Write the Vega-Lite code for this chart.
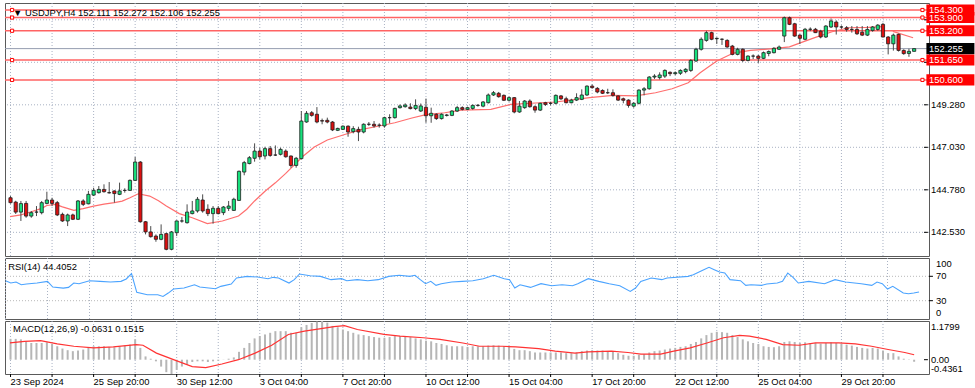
{
"$schema":"https://vega.github.io/schema/vega-lite/v6.json",
"background":"white",
"padding":{"left":2,"top":2,"right":0,"bottom":0},
"spacing":0,
"config":{"view":{"stroke":"#5a5a5a","strokeWidth":1},"axis":{"disable":true},"text":{"font":"Liberation Sans","fontSize":9.4,"color":"#000"}},
"datasets":{
"bars":[
{"i":0,"o":144.36,"h":144.45,"l":144.05,"c":144.10,"m":0.635},
{"i":1,"o":144.13,"h":144.20,"l":143.50,"c":143.60,"m":0.635},
{"i":2,"o":143.60,"h":144.19,"l":143.13,"c":144.05,"m":0.62},
{"i":3,"o":144.06,"h":144.19,"l":143.30,"c":143.39,"m":0.56},
{"i":4,"o":143.39,"h":143.66,"l":143.30,"c":143.57,"m":0.51},
{"i":5,"o":143.60,"h":143.92,"l":143.39,"c":143.60,"m":0.51},
{"i":6,"o":143.57,"h":144.19,"l":143.48,"c":144.10,"m":0.51},
{"i":7,"o":144.06,"h":144.68,"l":144.01,"c":144.24,"m":0.53},
{"i":8,"o":144.24,"h":144.36,"l":143.92,"c":144.06,"m":0.48},
{"i":9,"o":144.10,"h":144.19,"l":143.39,"c":143.45,"m":0.41},
{"i":10,"o":143.48,"h":143.57,"l":143.08,"c":143.13,"m":0.34},
{"i":11,"o":143.13,"h":143.52,"l":142.86,"c":143.45,"m":0.29},
{"i":12,"o":143.45,"h":143.52,"l":143.18,"c":143.22,"m":0.26},
{"i":13,"o":143.22,"h":144.24,"l":143.18,"c":144.19,"m":0.28},
{"i":14,"o":144.19,"h":144.28,"l":143.92,"c":144.01,"m":0.31},
{"i":15,"o":144.04,"h":144.72,"l":144.01,"c":144.54,"m":0.36},
{"i":16,"o":144.50,"h":144.89,"l":144.45,"c":144.75,"m":0.41},
{"i":17,"o":144.63,"h":144.98,"l":144.58,"c":144.80,"m":0.41},
{"i":18,"o":144.80,"h":145.07,"l":144.63,"c":144.68,"m":0.41},
{"i":19,"o":144.63,"h":145.19,"l":144.58,"c":144.62,"m":0.39},
{"i":20,"o":144.72,"h":144.75,"l":144.10,"c":144.58,"m":0.38},
{"i":21,"o":144.54,"h":145.16,"l":144.50,"c":144.72,"m":0.41},
{"i":22,"o":144.75,"h":144.86,"l":144.63,"c":144.75,"m":0.43},
{"i":23,"o":144.75,"h":145.33,"l":144.72,"c":145.28,"m":0.46},
{"i":24,"o":145.28,"h":146.52,"l":145.25,"c":146.25,"m":0.62},
{"i":25,"o":146.25,"h":146.30,"l":143.04,"c":143.09,"m":0.36},
{"i":26,"o":143.09,"h":143.13,"l":142.42,"c":142.55,"m":0.10},
{"i":27,"o":142.55,"h":142.86,"l":142.25,"c":142.30,"m":0.03},
{"i":28,"o":142.33,"h":142.42,"l":142.03,"c":142.16,"m":-0.05},
{"i":29,"o":142.16,"h":142.95,"l":142.11,"c":142.42,"m":-0.21},
{"i":30,"o":142.46,"h":142.51,"l":141.58,"c":141.63,"m":-0.38},
{"i":31,"o":141.63,"h":142.60,"l":141.58,"c":142.55,"m":-0.436},
{"i":32,"o":142.51,"h":143.16,"l":142.33,"c":143.13,"m":-0.31},
{"i":33,"o":143.13,"h":143.34,"l":143.04,"c":143.13,"m":-0.21},
{"i":34,"o":143.04,"h":144.01,"l":142.99,"c":143.60,"m":-0.15},
{"i":35,"o":143.52,"h":144.19,"l":143.48,"c":143.66,"m":-0.07},
{"i":36,"o":143.66,"h":144.40,"l":143.57,"c":144.28,"m":-0.05},
{"i":37,"o":144.24,"h":144.54,"l":143.57,"c":143.66,"m":-0.05},
{"i":38,"o":143.75,"h":144.01,"l":143.39,"c":143.52,"m":-0.07},
{"i":39,"o":143.52,"h":143.92,"l":142.99,"c":143.80,"m":-0.05},
{"i":40,"o":143.80,"h":143.92,"l":143.48,"c":143.52,"m":-0.03},
{"i":41,"o":143.57,"h":143.92,"l":143.44,"c":143.87,"m":0.005},
{"i":42,"o":143.80,"h":144.19,"l":143.66,"c":143.92,"m":0.03},
{"i":43,"o":143.69,"h":144.36,"l":143.66,"c":144.28,"m":0.07},
{"i":44,"o":144.22,"h":145.80,"l":144.19,"c":145.76,"m":0.24},
{"i":45,"o":145.72,"h":146.31,"l":145.55,"c":146.22,"m":0.36},
{"i":46,"o":146.17,"h":146.57,"l":146.13,"c":146.48,"m":0.51},
{"i":47,"o":146.45,"h":147.24,"l":146.27,"c":146.83,"m":0.65},
{"i":48,"o":146.83,"h":147.01,"l":146.39,"c":146.53,"m":0.72},
{"i":49,"o":146.57,"h":147.06,"l":146.39,"c":146.96,"m":0.77},
{"i":50,"o":146.96,"h":147.10,"l":146.53,"c":146.60,"m":0.82},
{"i":51,"o":146.62,"h":147.13,"l":146.57,"c":146.62,"m":0.87},
{"i":52,"o":146.66,"h":147.01,"l":146.60,"c":146.92,"m":0.87},
{"i":53,"o":146.83,"h":146.92,"l":146.48,"c":146.53,"m":0.87},
{"i":54,"o":146.57,"h":146.60,"l":145.95,"c":146.07,"m":0.82},
{"i":55,"o":146.07,"h":146.52,"l":145.95,"c":146.45,"m":0.82},
{"i":56,"o":146.43,"h":148.95,"l":146.40,"c":148.42,"m":0.99},
{"i":57,"o":148.37,"h":148.95,"l":148.33,"c":148.83,"m":1.06},
{"i":58,"o":148.86,"h":148.95,"l":148.65,"c":148.72,"m":1.12},
{"i":59,"o":148.78,"h":149.16,"l":148.30,"c":148.37,"m":1.16},
{"i":60,"o":148.44,"h":148.55,"l":148.25,"c":148.42,"m":1.18},
{"i":61,"o":148.46,"h":148.60,"l":148.30,"c":148.37,"m":1.13},
{"i":62,"o":148.37,"h":148.42,"l":147.89,"c":147.95,"m":1.03},
{"i":63,"o":147.93,"h":148.07,"l":147.89,"c":148.03,"m":0.99},
{"i":64,"o":147.98,"h":148.19,"l":147.95,"c":148.15,"m":0.92},
{"i":65,"o":148.15,"h":148.19,"l":147.59,"c":147.84,"m":0.87},
{"i":66,"o":147.86,"h":148.15,"l":147.77,"c":148.02,"m":0.82},
{"i":67,"o":147.98,"h":148.12,"l":147.36,"c":147.84,"m":0.77},
{"i":68,"o":147.84,"h":148.30,"l":147.77,"c":148.25,"m":0.75},
{"i":69,"o":148.25,"h":148.37,"l":148.16,"c":148.25,"m":0.72},
{"i":70,"o":148.25,"h":148.42,"l":148.07,"c":148.16,"m":0.69},
{"i":71,"o":148.20,"h":148.30,"l":148.07,"c":148.20,"m":0.67},
{"i":72,"o":148.16,"h":148.65,"l":148.07,"c":148.60,"m":0.67},
{"i":73,"o":148.60,"h":148.78,"l":148.30,"c":148.60,"m":0.69},
{"i":74,"o":148.60,"h":149.13,"l":148.55,"c":149.09,"m":0.72},
{"i":75,"o":149.13,"h":149.30,"l":149.08,"c":149.22,"m":0.72},
{"i":76,"o":149.18,"h":149.36,"l":149.13,"c":149.27,"m":0.72},
{"i":77,"o":149.16,"h":149.36,"l":149.04,"c":149.08,"m":0.69},
{"i":78,"o":149.08,"h":149.57,"l":149.00,"c":149.25,"m":0.65},
{"i":79,"o":148.95,"h":149.35,"l":148.90,"c":149.22,"m":0.62},
{"i":80,"o":149.15,"h":149.61,"l":148.33,"c":148.70,"m":0.58},
{"i":81,"o":148.70,"h":149.13,"l":148.33,"c":148.83,"m":0.56},
{"i":82,"o":148.78,"h":148.83,"l":148.48,"c":148.55,"m":0.51},
{"i":83,"o":148.55,"h":148.83,"l":148.50,"c":148.78,"m":0.48},
{"i":84,"o":148.72,"h":148.80,"l":148.66,"c":148.74,"m":0.44},
{"i":85,"o":148.72,"h":149.00,"l":148.68,"c":148.95,"m":0.41},
{"i":86,"o":148.95,"h":149.22,"l":148.90,"c":149.13,"m":0.41},
{"i":87,"o":149.13,"h":149.20,"l":148.98,"c":149.04,"m":0.41},
{"i":88,"o":149.04,"h":149.18,"l":149.00,"c":149.13,"m":0.39},
{"i":89,"o":149.09,"h":149.30,"l":149.02,"c":149.25,"m":0.41},
{"i":90,"o":149.25,"h":149.32,"l":149.18,"c":149.25,"m":0.41},
{"i":91,"o":149.21,"h":149.48,"l":149.15,"c":149.43,"m":0.41},
{"i":92,"o":149.39,"h":149.88,"l":149.35,"c":149.80,"m":0.43},
{"i":93,"o":149.80,"h":150.01,"l":149.75,"c":149.92,"m":0.44},
{"i":94,"o":149.89,"h":149.96,"l":149.66,"c":149.71,"m":0.43},
{"i":95,"o":149.78,"h":149.83,"l":149.48,"c":149.52,"m":0.41},
{"i":96,"o":149.52,"h":149.72,"l":149.45,"c":149.66,"m":0.39},
{"i":97,"o":149.66,"h":149.69,"l":148.83,"c":148.90,"m":0.33},
{"i":98,"o":148.90,"h":149.48,"l":148.86,"c":149.21,"m":0.29},
{"i":99,"o":149.13,"h":149.53,"l":149.07,"c":149.48,"m":0.29},
{"i":100,"o":149.48,"h":149.57,"l":149.13,"c":149.18,"m":0.26},
{"i":101,"o":149.18,"h":149.25,"l":148.86,"c":149.00,"m":0.22},
{"i":102,"o":149.00,"h":149.39,"l":148.95,"c":149.36,"m":0.22},
{"i":103,"o":149.39,"h":149.44,"l":149.22,"c":149.30,"m":0.22},
{"i":104,"o":149.36,"h":149.44,"l":149.25,"c":149.36,"m":0.22},
{"i":105,"o":149.36,"h":149.83,"l":149.30,"c":149.78,"m":0.22},
{"i":106,"o":149.75,"h":149.80,"l":149.53,"c":149.60,"m":0.22},
{"i":107,"o":149.60,"h":149.71,"l":149.36,"c":149.39,"m":0.20},
{"i":108,"o":149.39,"h":149.60,"l":149.36,"c":149.53,"m":0.20},
{"i":109,"o":149.53,"h":149.89,"l":149.48,"c":149.66,"m":0.22},
{"i":110,"o":149.57,"h":150.10,"l":149.53,"c":149.80,"m":0.26},
{"i":111,"o":149.80,"h":150.31,"l":149.75,"c":150.27,"m":0.28},
{"i":112,"o":150.27,"h":150.36,"l":150.13,"c":150.19,"m":0.29},
{"i":113,"o":150.15,"h":150.22,"l":149.89,"c":149.96,"m":0.28},
{"i":114,"o":150.04,"h":150.10,"l":149.85,"c":149.89,"m":0.28},
{"i":115,"o":149.92,"h":150.13,"l":149.85,"c":149.92,"m":0.26},
{"i":116,"o":149.92,"h":150.10,"l":149.71,"c":149.78,"m":0.26},
{"i":117,"o":149.75,"h":149.78,"l":149.48,"c":149.53,"m":0.20},
{"i":118,"o":149.60,"h":149.66,"l":149.36,"c":149.52,"m":0.15},
{"i":119,"o":149.53,"h":149.57,"l":149.13,"c":149.25,"m":0.12},
{"i":120,"o":149.21,"h":149.42,"l":149.13,"c":149.36,"m":0.12},
{"i":121,"o":149.36,"h":150.10,"l":149.30,"c":150.06,"m":0.15},
{"i":122,"o":150.06,"h":150.22,"l":149.78,"c":150.13,"m":0.17},
{"i":123,"o":150.13,"h":150.80,"l":150.08,"c":150.75,"m":0.22},
{"i":124,"o":150.75,"h":150.90,"l":150.65,"c":150.80,"m":0.26},
{"i":125,"o":150.72,"h":151.00,"l":150.62,"c":150.86,"m":0.28},
{"i":126,"o":150.80,"h":151.16,"l":150.70,"c":151.10,"m":0.31},
{"i":127,"o":151.00,"h":151.05,"l":150.80,"c":150.93,"m":0.34},
{"i":128,"o":150.93,"h":151.05,"l":150.85,"c":150.98,"m":0.36},
{"i":129,"o":150.95,"h":151.16,"l":150.86,"c":151.10,"m":0.39},
{"i":130,"o":151.04,"h":151.22,"l":150.95,"c":151.16,"m":0.41},
{"i":131,"o":151.10,"h":151.70,"l":151.02,"c":151.63,"m":0.48},
{"i":132,"o":151.60,"h":152.30,"l":151.55,"c":152.22,"m":0.54},
{"i":133,"o":152.22,"h":152.85,"l":152.15,"c":152.75,"m":0.65},
{"i":134,"o":152.69,"h":153.20,"l":152.62,"c":153.10,"m":0.75},
{"i":135,"o":153.10,"h":153.15,"l":152.70,"c":152.75,"m":0.82},
{"i":136,"o":152.78,"h":152.85,"l":152.50,"c":152.80,"m":0.85},
{"i":137,"o":152.75,"h":152.80,"l":152.45,"c":152.75,"m":0.84},
{"i":138,"o":152.69,"h":152.75,"l":152.30,"c":152.34,"m":0.82},
{"i":139,"o":152.39,"h":152.45,"l":151.90,"c":151.95,"m":0.75},
{"i":140,"o":151.95,"h":152.30,"l":151.90,"c":152.22,"m":0.69},
{"i":141,"o":152.22,"h":152.27,"l":151.55,"c":151.63,"m":0.62},
{"i":142,"o":151.63,"h":151.90,"l":151.58,"c":151.86,"m":0.56},
{"i":143,"o":151.86,"h":151.95,"l":151.70,"c":151.86,"m":0.51},
{"i":144,"o":151.86,"h":151.92,"l":151.50,"c":151.74,"m":0.48},
{"i":145,"o":151.74,"h":152.10,"l":151.70,"c":152.04,"m":0.41},
{"i":146,"o":152.00,"h":152.16,"l":151.85,"c":152.10,"m":0.39},
{"i":147,"o":152.04,"h":152.33,"l":152.00,"c":152.27,"m":0.38},
{"i":148,"o":152.22,"h":152.42,"l":152.18,"c":152.34,"m":0.41},
{"i":149,"o":152.92,"h":153.95,"l":152.60,"c":153.89,"m":0.54},
{"i":150,"o":153.89,"h":153.95,"l":153.50,"c":153.54,"m":0.56},
{"i":151,"o":153.57,"h":153.62,"l":152.88,"c":152.92,"m":0.54},
{"i":152,"o":152.97,"h":153.02,"l":152.50,"c":152.80,"m":0.51},
{"i":153,"o":152.75,"h":153.35,"l":152.70,"c":153.28,"m":0.53},
{"i":154,"o":153.28,"h":153.38,"l":153.18,"c":153.28,"m":0.51},
{"i":155,"o":153.28,"h":153.35,"l":153.08,"c":153.10,"m":0.51},
{"i":156,"o":153.18,"h":153.25,"l":152.80,"c":152.87,"m":0.49},
{"i":157,"o":152.87,"h":153.50,"l":152.82,"c":153.45,"m":0.51},
{"i":158,"o":153.40,"h":153.85,"l":153.35,"c":153.72,"m":0.53},
{"i":159,"o":153.66,"h":153.75,"l":153.00,"c":153.40,"m":0.51},
{"i":160,"o":153.40,"h":153.48,"l":153.30,"c":153.40,"m":0.49},
{"i":161,"o":153.36,"h":153.45,"l":153.15,"c":153.27,"m":0.46},
{"i":162,"o":153.27,"h":153.45,"l":153.10,"c":153.27,"m":0.43},
{"i":163,"o":153.27,"h":153.45,"l":152.98,"c":153.04,"m":0.39},
{"i":164,"o":153.12,"h":153.45,"l":152.92,"c":152.97,"m":0.36},
{"i":165,"o":152.97,"h":153.45,"l":152.92,"c":153.27,"m":0.34},
{"i":166,"o":153.22,"h":153.45,"l":153.15,"c":153.40,"m":0.36},
{"i":167,"o":153.27,"h":153.55,"l":153.20,"c":153.50,"m":0.34},
{"i":168,"o":153.54,"h":153.62,"l":152.85,"c":152.87,"m":0.28},
{"i":169,"o":152.87,"h":152.92,"l":151.95,"c":152.51,"m":0.20},
{"i":170,"o":152.51,"h":153.05,"l":152.15,"c":152.97,"m":0.20},
{"i":171,"o":153.01,"h":153.05,"l":152.10,"c":152.16,"m":0.10},
{"i":172,"o":152.16,"h":152.22,"l":151.93,"c":151.99,"m":0.03},
{"i":173,"o":152.00,"h":152.25,"l":151.82,"c":152.11,"m":-0.01},
{"i":174,"o":152.111,"h":152.272,"l":152.106,"c":152.255,"m":-0.063}
],
"ma":[
{"i":-0.1,"v":143.36,"s":1},{"i":2,"v":143.45,"s":1},{"i":4,"v":143.62,"s":1},{"i":6,"v":143.80,"s":1},{"i":7,"v":143.95,"s":1},{"i":8.7,"v":144.01,"s":1},{"i":10,"v":143.88,"s":1},{"i":12.2,"v":143.69,"s":1},{"i":14,"v":143.78,"s":1},{"i":16,"v":143.92,"s":1},{"i":18,"v":144.02,"s":1},{"i":20,"v":144.10,"s":1},{"i":21.5,"v":144.18,"s":1},{"i":23,"v":144.36,"s":1},{"i":24.6,"v":144.57,"s":1},{"i":26.8,"v":144.45,"s":1},{"i":28.5,"v":144.20,"s":1},{"i":30,"v":143.92,"s":1},{"i":32.5,"v":143.52,"s":1},{"i":35,"v":143.30,"s":1},{"i":37.9,"v":142.99,"s":1},{"i":40.8,"v":143.13,"s":1},{"i":43.9,"v":143.39,"s":1},{"i":45.5,"v":143.75,"s":1},{"i":47,"v":144.19,"s":1},{"i":49,"v":144.70,"s":1},{"i":51,"v":145.15,"s":1},{"i":53,"v":145.65,"s":1},{"i":55,"v":146.20,"s":1},{"i":56.5,"v":146.60,"s":1},{"i":58.5,"v":147.05,"s":1},{"i":61,"v":147.42,"s":1},{"i":64.5,"v":147.72,"s":1},{"i":67.7,"v":147.98,"s":1},{"i":71,"v":148.16,"s":1},{"i":74,"v":148.33,"s":1},{"i":77.3,"v":148.58,"s":1},{"i":80,"v":148.76,"s":1},{"i":83.6,"v":148.86,"s":1},{"i":86.8,"v":149.00,"s":1},{"i":92.5,"v":149.04,"s":1},{"i":96.3,"v":149.30,"s":1},{"i":102,"v":149.39,"s":1},{"i":105,"v":149.43,"s":1},{"i":111.5,"v":149.66,"s":1},{"i":116,"v":149.78,"s":1},{"i":120.4,"v":149.75,"s":1},{"i":124.2,"v":149.92,"s":1},{"i":127.4,"v":150.13,"s":1},{"i":130.5,"v":150.45,"s":1},{"i":132.8,"v":150.98,"s":1},{"i":136,"v":151.60,"s":1},{"i":139.2,"v":152.02,"s":1},{"i":142.5,"v":152.16,"s":1},{"i":146.8,"v":152.25,"s":1},{"i":150,"v":152.35,"s":1},{"i":152.2,"v":152.57,"s":1},{"i":155,"v":152.85,"s":1},{"i":158.2,"v":153.15,"s":1},{"i":161.4,"v":153.36,"s":1},{"i":165.2,"v":153.38,"s":1},{"i":168,"v":153.42,"s":1},
{"i":169.9,"v":153.17,"s":2},{"i":173.8,"v":152.83,"s":2}
],
"rsi":[
{"i":0,"v":62.8},{"i":1,"v":59},{"i":2,"v":60.6},{"i":3,"v":56.2},{"i":4,"v":57.3},{"i":6,"v":59},{"i":8,"v":61.7},{"i":9,"v":52.4},{"i":11,"v":50.7},{"i":12,"v":51.8},{"i":13,"v":59},{"i":14,"v":57.9},{"i":16,"v":62.8},{"i":18,"v":61.7},{"i":20,"v":60.6},{"i":22,"v":61.7},{"i":23,"v":65.6},{"i":24,"v":74.3},{"i":25,"v":43.6},{"i":27,"v":39.8},{"i":29,"v":39.8},{"i":30,"v":37},{"i":31,"v":42.5},{"i":32,"v":49.1},{"i":34,"v":50.7},{"i":36,"v":56.2},{"i":37,"v":52.4},{"i":40,"v":49.6},{"i":41,"v":53.5},{"i":43,"v":57.3},{"i":44,"v":67.2},{"i":46,"v":69.9},{"i":48,"v":68.8},{"i":50,"v":66.1},{"i":51,"v":68.3},{"i":52,"v":67.2},{"i":54,"v":59},{"i":55,"v":64.5},{"i":56,"v":73.8},{"i":58,"v":71},{"i":60,"v":69.9},{"i":62,"v":64.5},{"i":64,"v":66.1},{"i":65,"v":62.8},{"i":67,"v":64.5},{"i":69,"v":62.8},{"i":71,"v":64.5},{"i":73,"v":69.9},{"i":75,"v":71.6},{"i":77,"v":69.9},{"i":78,"v":71.6},{"i":79,"v":64.5},{"i":80,"v":57.9},{"i":81,"v":61.7},{"i":82,"v":55.1},{"i":83,"v":57.9},{"i":85,"v":60.6},{"i":87,"v":61.7},{"i":89,"v":62.8},{"i":91,"v":66.1},{"i":93,"v":71.6},{"i":95,"v":66.1},{"i":96,"v":64.5},{"i":97,"v":50.7},{"i":98,"v":56.2},{"i":100,"v":51.8},{"i":102,"v":57.9},{"i":104,"v":54.6},{"i":106,"v":56.2},{"i":108,"v":54.6},{"i":109,"v":57.9},{"i":111,"v":66.1},{"i":113,"v":61.7},{"i":115,"v":57.9},{"i":117,"v":54.6},{"i":119,"v":45.3},{"i":120,"v":50.7},{"i":121,"v":61.7},{"i":123,"v":67.2},{"i":125,"v":64.5},{"i":126,"v":67.2},{"i":130,"v":69.9},{"i":131,"v":72.7},{"i":133,"v":80.9},{"i":134,"v":84.8},{"i":135,"v":80.9},{"i":136,"v":77.1},{"i":137,"v":75.4},{"i":138,"v":64.5},{"i":140,"v":62.8},{"i":141,"v":55.1},{"i":142,"v":56.2},{"i":144,"v":55.1},{"i":145,"v":57.3},{"i":147,"v":59},{"i":148,"v":61.7},{"i":149,"v":75.4},{"i":150,"v":68.3},{"i":151,"v":59},{"i":153,"v":61.7},{"i":156,"v":57.9},{"i":158,"v":64.5},{"i":160,"v":60.6},{"i":163,"v":57.9},{"i":165,"v":55.1},{"i":166,"v":60.6},{"i":167,"v":57.9},{"i":168,"v":49.1},{"i":169,"v":53.5},{"i":171,"v":42.5},{"i":172,"v":41.4},{"i":173,"v":42.5},{"i":174,"v":44.4}
],
"sig":[
{"i":-0.1,"v":0.51},{"i":2.7,"v":0.56},{"i":5.8,"v":0.58},{"i":9,"v":0.48},{"i":12.2,"v":0.41},{"i":16,"v":0.36},{"i":19.8,"v":0.39},{"i":24.2,"v":0.46},{"i":25.5,"v":0.44},{"i":28.1,"v":0.20},{"i":31.9,"v":-0.03},{"i":35,"v":-0.21},{"i":37.6,"v":-0.24},{"i":40.7,"v":-0.13},{"i":43.9,"v":0.0},{"i":47.1,"v":0.20},{"i":50.3,"v":0.44},{"i":53.5,"v":0.77},{"i":56.6,"v":0.87},{"i":59.8,"v":0.95},{"i":62.3,"v":1.01},{"i":64.3,"v":1.04},{"i":66.8,"v":0.92},{"i":71.9,"v":0.77},{"i":75,"v":0.72},{"i":79.5,"v":0.67},{"i":82.7,"v":0.62},{"i":87.1,"v":0.51},{"i":90.3,"v":0.41},{"i":94.7,"v":0.41},{"i":97.3,"v":0.39},{"i":101.7,"v":0.34},{"i":104.9,"v":0.26},{"i":108.7,"v":0.20},{"i":111.2,"v":0.24},{"i":115.7,"v":0.26},{"i":118.9,"v":0.22},{"i":121.4,"v":0.17},{"i":125.2,"v":0.17},{"i":127.7,"v":0.26},{"i":130.9,"v":0.36},{"i":134.1,"v":0.51},{"i":137.3,"v":0.67},{"i":140.4,"v":0.74},{"i":142.3,"v":0.72},{"i":145.5,"v":0.62},{"i":148.7,"v":0.46},{"i":151.9,"v":0.44},{"i":155,"v":0.51},{"i":159.5,"v":0.51},{"i":162.7,"v":0.48},{"i":165.8,"v":0.41},{"i":169,"v":0.31},{"i":172.2,"v":0.22},{"i":174,"v":0.1515}
],
"levels":[
{"p":154.3,"t":"154.300","k":"r"},{"p":153.9,"t":"153.900","k":"r"},{"p":153.2,"t":"153.200","k":"r"},{"p":152.255,"t":"152.255","k":"cur"},{"p":151.65,"t":"151.650","k":"r"},{"p":150.6,"t":"150.600","k":"r"}
],
"ygrid":[
{"p":142.53,"t":"142.530"},{"p":144.78,"t":"144.780"},{"p":147.03,"t":"147.030"},{"p":149.28,"t":"149.280"},{"p":151.53,"t":""},{"p":153.78,"t":""}
],
"xgrid":[
{"i":0,"t":"23 Sep 2024"},{"i":8,"t":""},{"i":16,"t":"25 Sep 20:00"},{"i":24,"t":""},{"i":32,"t":"30 Sep 12:00"},{"i":40,"t":""},{"i":48,"t":"3 Oct 04:00"},{"i":56,"t":""},{"i":64,"t":"7 Oct 20:00"},{"i":72,"t":""},{"i":80,"t":"10 Oct 12:00"},{"i":88,"t":""},{"i":96,"t":"15 Oct 04:00"},{"i":104,"t":""},{"i":112,"t":"17 Oct 20:00"},{"i":120,"t":""},{"i":128,"t":"22 Oct 12:00"},{"i":136,"t":""},{"i":144,"t":"25 Oct 04:00"},{"i":152,"t":""},{"i":160,"t":"29 Oct 20:00"},{"i":168,"t":""}
],
"rsiax":[
{"v":0,"t":"0","b":"bottom"},{"v":30,"t":"30","b":"middle"},{"v":70,"t":"70","b":"middle"},{"v":100,"t":"100","b":"top"}
],
"macdax":[
{"v":-0.4361,"t":"-0.4361","b":"bottom"},{"v":0,"t":"0.00","b":"middle"},{"v":1.1799,"t":"1.1799","b":"top"}
]
},
"vconcat":[
{
"width":924,"height":253,
"layer":[
{"data":{"name":"xgrid"},"mark":{"type":"rule","color":"#a9b2c4","strokeWidth":1,"strokeDash":[1,2]},
 "encoding":{"x":{"field":"i","type":"quantitative","scale":{"domain":[-0.1,175.9],"nice":false,"zero":false}}}},
{"data":{"name":"ygrid"},"mark":{"type":"rule","color":"#a9b2c4","strokeWidth":1,"strokeDash":[1,2]},
 "encoding":{"y":{"field":"p","type":"quantitative","scale":{"domain":[141.276,154.67],"nice":false,"zero":false}}}},
{"data":{"name":"levels"},"transform":[{"filter":"datum.k=='cur'"}],"mark":{"type":"rule","color":"#959db0","strokeWidth":1},
 "encoding":{"y":{"field":"p","type":"quantitative"}}},
{"data":{"name":"levels"},"transform":[{"filter":"datum.k=='r'"}],"mark":{"type":"rule","color":"#ff6363","strokeWidth":1.5},
 "encoding":{"y":{"field":"p","type":"quantitative"}}},
{"data":{"name":"ma"},"mark":{"type":"line","color":"#ff6e6e","strokeWidth":1.2},
 "encoding":{"x":{"field":"i","type":"quantitative"},"y":{"field":"v","type":"quantitative"},"detail":{"field":"s","type":"nominal"}}},
{"data":{"name":"bars"},"mark":{"type":"rule","color":"#4a4a4a","strokeWidth":1},
 "encoding":{"x":{"field":"i","type":"quantitative"},"y":{"field":"l","type":"quantitative"},"y2":{"field":"h"}}},
{"data":{"name":"bars"},"mark":{"type":"bar","width":3.2,"stroke":"#1e1e1e","strokeWidth":0.8,"clip":true},
 "encoding":{"x":{"field":"i","type":"quantitative"},"y":{"field":"o","type":"quantitative"},"y2":{"field":"c"},
  "fill":{"condition":{"test":"datum.c >= datum.o","value":"#17e07c"},"value":"#dd1010"}}},
{"data":{"name":"levels"},"transform":[{"filter":"datum.k=='r'"}],"mark":{"type":"point","shape":"square","size":10,"fill":"#ffffff","stroke":"#ff0000","strokeWidth":1,"opacity":1},
 "encoding":{"x":{"datum":0.3,"type":"quantitative"},"y":{"field":"p","type":"quantitative"}}},
{"data":{"name":"levels"},"transform":[{"filter":"datum.k=='r'"}],"mark":{"type":"point","shape":"square","size":10,"fill":"#ffffff","stroke":"#ff0000","strokeWidth":1,"opacity":1},
 "encoding":{"x":{"datum":175.6,"type":"quantitative"},"y":{"field":"p","type":"quantitative"}}},
{"data":{"name":"ygrid"},"mark":{"type":"rule","color":"#000","strokeWidth":1},
 "encoding":{"x":{"datum":175.9,"type":"quantitative"},"x2":{"datum":176.65},"y":{"field":"p","type":"quantitative"}}},
{"data":{"name":"ygrid"},"mark":{"type":"text","align":"left","baseline":"middle","dx":7,"fontSize":9.4,"color":"#000"},
 "encoding":{"x":{"datum":175.9,"type":"quantitative"},"y":{"field":"p","type":"quantitative"},"text":{"field":"t"}}},
{"data":{"name":"levels"},"mark":{"type":"point","shape":"M0.1,-0.23H2.1V0.23H0.1Z","size":2304,"filled":true,"opacity":1,"strokeWidth":0},
 "encoding":{"x":{"datum":175.9,"type":"quantitative"},"y":{"field":"p","type":"quantitative"},
  "fill":{"field":"k","type":"nominal","scale":{"domain":["r","cur"],"range":["#ff0000","#000000"]},"legend":null}}},
{"data":{"name":"levels"},"mark":{"type":"text","align":"left","baseline":"middle","dx":5,"color":"#ffffff","fontSize":9.4},
 "encoding":{"x":{"datum":175.9,"type":"quantitative"},"y":{"field":"p","type":"quantitative"},"text":{"field":"t"}}},
{"data":{"values":[{"t":"▼ USDJPY,H4  152.111 152.272 152.106 152.255"}]},"mark":{"type":"text","align":"left","baseline":"middle","fontSize":9.4,"color":"#000"},
 "encoding":{"x":{"datum":0.5,"type":"quantitative"},"y":{"datum":154.14,"type":"quantitative"},"text":{"field":"t"}}}
]
},
{
"width":924,"height":61,
"layer":[
{"data":{"name":"xgrid"},"mark":{"type":"rule","color":"#a9b2c4","strokeWidth":1,"strokeDash":[1,2]},
 "encoding":{"x":{"field":"i","type":"quantitative","scale":{"domain":[-0.1,175.9],"nice":false,"zero":false}}}},
{"data":{"name":"rsiax"},"transform":[{"filter":"datum.v==30 || datum.v==70"}],"mark":{"type":"rule","color":"#b8b8b8","strokeWidth":1,"strokeDash":[1,2]},
 "encoding":{"y":{"field":"v","type":"quantitative","scale":{"domain":[0,100],"nice":false,"zero":false}}}},
{"data":{"name":"rsi"},"mark":{"type":"line","color":"#4aa3ff","strokeWidth":1.1},
 "encoding":{"x":{"field":"i","type":"quantitative"},"y":{"field":"v","type":"quantitative"}}},
{"data":{"name":"rsiax"},"transform":[{"filter":"datum.v==30 || datum.v==70"}],"mark":{"type":"rule","color":"#000","strokeWidth":1},
 "encoding":{"x":{"datum":175.9,"type":"quantitative"},"x2":{"datum":176.65},"y":{"field":"v","type":"quantitative"}}},
{"data":{"name":"rsiax"},"transform":[{"filter":"datum.b=='middle'"}],"mark":{"type":"text","align":"left","baseline":"middle","dx":7,"fontSize":9.4,"color":"#000"},
 "encoding":{"x":{"datum":175.9,"type":"quantitative"},"y":{"field":"v","type":"quantitative"},"text":{"field":"t"}}},
{"data":{"values":[{"t":"100"}]},"mark":{"type":"text","align":"left","baseline":"middle","dx":7,"fontSize":9.4,"color":"#000"},
 "encoding":{"x":{"datum":175.9,"type":"quantitative"},"y":{"datum":90.3,"type":"quantitative"},"text":{"field":"t"}}},
{"data":{"name":"rsiax"},"transform":[{"filter":"datum.b=='bottom'"}],"mark":{"type":"text","align":"left","baseline":"middle","dx":7,"dy":-6,"fontSize":9.4,"color":"#000"},
 "encoding":{"x":{"datum":175.9,"type":"quantitative"},"y":{"field":"v","type":"quantitative"},"text":{"field":"t"}}},
{"data":{"values":[{"t":"RSI(14) 44.4052"}]},"mark":{"type":"text","align":"left","baseline":"middle","fontSize":9.4,"color":"#000"},
 "encoding":{"x":{"datum":0.5,"type":"quantitative"},"y":{"datum":86,"type":"quantitative"},"text":{"field":"t"}}}
]
},
{
"width":924,"height":53,
"layer":[
{"data":{"name":"xgrid"},"mark":{"type":"rule","color":"#a9b2c4","strokeWidth":1,"strokeDash":[1,2]},
 "encoding":{"x":{"field":"i","type":"quantitative","scale":{"domain":[-0.1,175.9],"nice":false,"zero":false}}}},
{"data":{"name":"bars"},"mark":{"type":"bar","width":2,"color":"#b6b6b6","clip":true},
 "encoding":{"x":{"field":"i","type":"quantitative"},
  "y":{"field":"m","type":"quantitative","scale":{"domain":[-0.4361,1.1799],"nice":false,"zero":false}},
  "y2":{"datum":0}}},
{"data":{"name":"sig"},"mark":{"type":"line","color":"#ff3333","strokeWidth":1.2},
 "encoding":{"x":{"field":"i","type":"quantitative"},"y":{"field":"v","type":"quantitative"}}},
{"data":{"name":"macdax"},"transform":[{"filter":"datum.b=='middle'"}],"mark":{"type":"rule","color":"#000","strokeWidth":1},
 "encoding":{"x":{"datum":175.9,"type":"quantitative"},"x2":{"datum":176.65},"y":{"field":"v","type":"quantitative"}}},
{"data":{"name":"macdax"},"transform":[{"filter":"datum.b=='middle'"}],"mark":{"type":"text","align":"left","baseline":"middle","dx":7,"fontSize":9.4,"color":"#000"},
 "encoding":{"x":{"datum":175.9,"type":"quantitative"},"y":{"field":"v","type":"quantitative"},"text":{"field":"t"}}},
{"data":{"name":"macdax"},"transform":[{"filter":"datum.b=='top'"}],"mark":{"type":"text","align":"left","baseline":"middle","dx":7,"dy":6,"fontSize":9.4,"color":"#000"},
 "encoding":{"x":{"datum":175.9,"type":"quantitative"},"y":{"field":"v","type":"quantitative"},"text":{"field":"t"}}},
{"data":{"name":"macdax"},"transform":[{"filter":"datum.b=='bottom'"}],"mark":{"type":"text","align":"left","baseline":"middle","dx":7,"dy":-5,"fontSize":9.4,"color":"#000"},
 "encoding":{"x":{"datum":175.9,"type":"quantitative"},"y":{"field":"v","type":"quantitative"},"text":{"field":"t"}}},
{"data":{"name":"xgrid"},"mark":{"type":"rule","color":"#000","strokeWidth":1},
 "encoding":{"x":{"field":"i","type":"quantitative"},"y":{"datum":-0.4361,"type":"quantitative"},"y2":{"datum":-0.528}}},
{"data":{"name":"xgrid"},"transform":[{"filter":"datum.t != ''"}],"mark":{"type":"text","align":"left","baseline":"top","dy":4,"fontSize":9.4,"color":"#000"},
 "encoding":{"x":{"field":"i","type":"quantitative"},"y":{"datum":-0.4361,"type":"quantitative"},"text":{"field":"t"}}},
{"data":{"values":[{"t":"MACD(12,26,9) -0.0631 0.1515"}]},"mark":{"type":"text","align":"left","baseline":"middle","fontSize":9.4,"color":"#000"},
 "encoding":{"x":{"datum":0.5,"type":"quantitative"},"y":{"datum":0.94,"type":"quantitative"},"text":{"field":"t"}}}
]
}
]
}
